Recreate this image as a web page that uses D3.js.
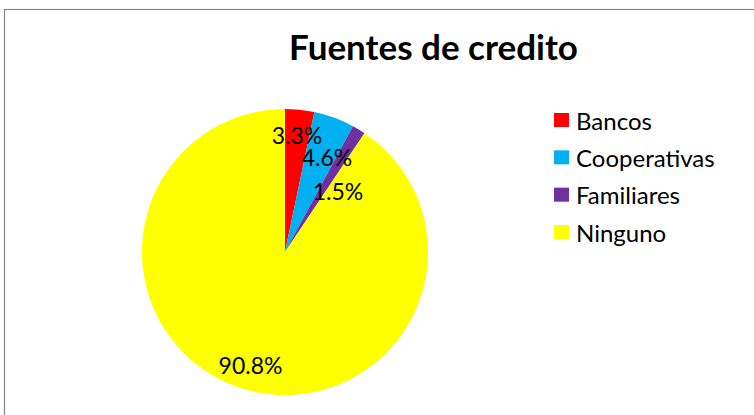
<!DOCTYPE html>
<html><head><meta charset="utf-8">
<script src="https://cdn.jsdelivr.net/npm/d3@7"></script>
<style>html,body{margin:0;padding:0;background:#fff;}svg{display:block;}</style>
</head><body>
<svg id="c" width="754" height="415"></svg>
<script>
const categories = ["Bancos", "Cooperativas", "Familiares", "Ninguno"];
const values = [3.3, 4.6, 1.5, 90.8];
const labels = ["3.3%", "4.6%", "1.5%", "90.8%"];
const colors = ["#FF0000", "#00B0F0", "#7030A0", "#FFFF00"];
const title = "Fuentes de credito";

const svg = d3.select("#c");
const font = "Lato, 'Open Sans', sans-serif";

svg.append("rect").attr("x", 4.5).attr("y", 9.5).attr("width", 760).attr("height", 420)
  .attr("fill", "#fff").attr("stroke", "#878787").attr("stroke-width", 1.2);

svg.append("text").attr("x", 433.5).attr("y", 60).attr("text-anchor", "middle")
  .attr("font-family", font).attr("font-weight", "bold").attr("font-size", 35)
  .attr("fill", "#000").text(title);

const cx = 285, cy = 252, r = 143;
const pie = d3.pie().sort(null).value(d => d)(values);
const arc = d3.arc().innerRadius(0).outerRadius(r);
const g = svg.append("g").attr("transform", `translate(${cx},${cy})`);
g.selectAll("path").data(pie).join("path")
  .attr("d", arc).attr("fill", (d, i) => colors[i]);

const labelPos = [[12, -117], [42, -95], [53, -61], [-34.5, 112.5]];
g.selectAll("text.lbl").data(pie).join("text").attr("class", "lbl")
  .attr("x", (d, i) => labelPos[i][0]).attr("y", (d, i) => labelPos[i][1])
  .attr("text-anchor", "middle").attr("dominant-baseline", "central")
  .attr("font-family", font).attr("font-size", 23).attr("fill", "#000")
  .text((d, i) => labels[i]);

const leg = svg.append("g");
const rowY = d3.scalePoint().domain(categories).range([120, 232]);
categories.forEach((c, i) => {
  const y = rowY(c);
  leg.append("rect").attr("x", 554).attr("y", y - 7).attr("width", 15).attr("height", 14).attr("fill", colors[i]);
  leg.append("text").attr("x", 576).attr("y", y).attr("dominant-baseline", "central")
    .attr("font-family", font).attr("font-size", 24).attr("fill", "#000").text(c);
});
</script>
</body></html>
